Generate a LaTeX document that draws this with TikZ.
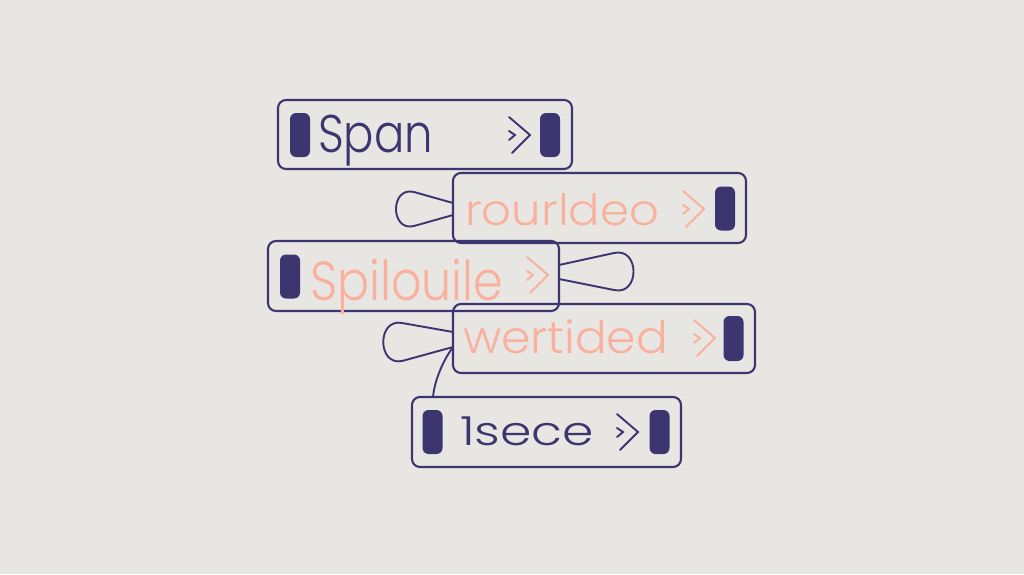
\documentclass[tikz,border=0pt]{standalone}
\usepackage{fontspec}
\setmainfont{Poppins}[UprightFont={* Light}]
\usetikzlibrary{calc}
\definecolor{bg}{HTML}{E8E6E2}
\definecolor{navy}{HTML}{3B3570}
\definecolor{salmon}{HTML}{F9B09C}
\tikzset{
  box/.style={draw=navy, line width=2.1pt, rounded corners=8pt, inner sep=0pt, outer sep=0pt},
  pill/.style={fill=navy, rounded corners=6pt, minimum width=20pt, minimum height=44pt, inner sep=0pt},
  lbl/.style={anchor=base west, inner sep=0pt, outer sep=0pt},
  link/.style={draw=navy, line width=1.9pt, line join=round},
  chevline/.style={line width=1.9pt, line cap=round, line join=miter},
  pics/chev/.style={code={
    \draw[chevline,draw=#1] (-21,-18) -- (0,0) -- (-18,18);
    \draw[chevline,draw=#1] (-21,-4) -- (-15,0) -- (-21,5);
  }}
}
\begin{document}
\begin{tikzpicture}[x=1pt,y=-1pt]
\fill[bg] (0,0) rectangle (1024,574);
\useasboundingbox (0,0) rectangle (1024,574);

% boxes
\node[box, minimum width=294pt, minimum height=69pt] (b1) at (425,134.5) {};
\node[box, minimum width=293pt, minimum height=70pt] (b2) at (599.5,208) {};
\node[box, minimum width=291pt, minimum height=70pt] (b3) at (413.5,276) {};
\node[box, minimum width=302pt, minimum height=69pt] (b4) at (604,338.5) {};
\node[box, minimum width=269pt, minimum height=70pt] (b5) at (546.5,432) {};

% pills
\node[pill] (p1l) at (300,135) {};
\node[pill] (p1r) at (550,135) {};
\node[pill] (p2r) at (725,208.5) {};
\node[pill] (p3l) at (290,276.5) {};
\node[pill, minimum height=45pt] (p4r) at (733.5,338.5) {};
\node[pill] (p5l) at (432.5,432) {};
\node[pill] (p5r) at (659.5,432) {};

% labels
\node[lbl, text=navy] (t1) at (318,152) {\resizebox{115pt}{\height}{\fontsize{53}{60}\selectfont Span}};
\node[lbl, text=salmon] (t2) at (465,225) {\resizebox{194pt}{\height}{\fontsize{43}{50}\selectfont rourldeo}};
\node[lbl, text=salmon] (t3) at (310,300) {\resizebox{193pt}{\height}{\fontsize{55}{62}\selectfont Spilouile}};
\node[lbl, text=salmon] (t4) at (463,353) {\resizebox{205pt}{\height}{\fontsize{45}{52}\selectfont wertided}};
\node[lbl, text=navy] (t5) at (460,445) {\resizebox{134pt}{\height}{\fontsize{40}{46}\selectfont 1sece}};

% chevrons
\pic at (530,135) {chev=navy};
\pic at (704,209) {chev=salmon};
\pic at (548,275) {chev=salmon};
\pic at (715,338) {chev=salmon};
\pic at (638,432) {chev=navy};

% loops
\coordinate (l2a) at ($(b2.west)+(0,-5)$);
\coordinate (l2b) at ($(b2.west)+(0,7)$);
\draw[link] (l2a) -- (414,192) .. controls (390,186) and (390,232) .. (414,226) -- (l2b);

\coordinate (l3a) at ($(b3.east)+(0,-11)$);
\coordinate (l3b) at ($(b3.east)+(0,3)$);
\draw[link] (l3a) -- (614,253) .. controls (640,247) and (640,296) .. (614,290) -- (l3b);

\coordinate (l4a) at ($(b4.west)+(0,-6.5)$);
\coordinate (l4b) at ($(b4.west)+(0,8.5)$);
\draw[link] (l4a) -- (402,323) .. controls (377,318) and (377,366) .. (402,361) -- (l4b);

\coordinate (c5) at ($(b5.north west)+(21,0)$);
\draw[link] (l4b) .. controls (440,365) and (434,385) .. (c5);
\end{tikzpicture}
\end{document}
